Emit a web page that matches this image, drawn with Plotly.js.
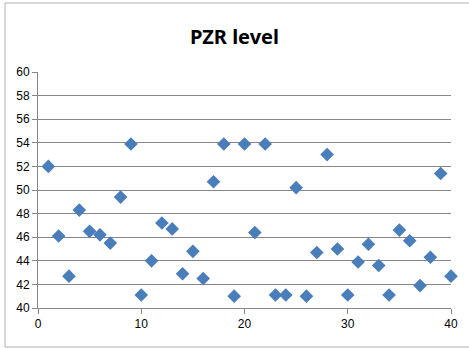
<!DOCTYPE html>
<html>
<head>
<meta charset="utf-8">
<script src="https://cdn.plot.ly/plotly-3.0.1.min.js"></script>
<style>html,body{margin:0;padding:0;background:#fff;}#chart{width:469px;height:349px;}</style>
</head>
<body>
<div id="chart"></div>
<script>
const xValues = [1,2,3,4,5,6,7,8,9,10,11,12,13,14,15,16,17,18,19,20,21,22,23,24,25,26,27,28,29,30,31,32,33,34,35,36,37,38,39,40];
const pzrLevel = [52.0,46.1,42.7,48.3,46.5,46.2,45.5,49.4,53.9,41.1,44.0,47.2,46.7,42.9,44.8,42.5,50.7,53.9,41.0,53.9,46.4,53.9,41.1,41.1,50.2,41.0,44.7,53.0,45.0,41.1,43.9,45.4,43.6,41.1,46.6,45.7,41.9,44.3,51.4,42.7];
const titleText = "PZR level";

const trace = {
  x: xValues, y: pzrLevel, type: 'scatter', mode: 'markers', cliponaxis: false,
  marker: {symbol: 'diamond', size: 10.5, color: '#4a7ebb', line: {width: 0}},
  hoverinfo: 'none'
};
const layout = {
  width: 469, height: 349,
  margin: {l: 38, r: 18, t: 72, b: 41},
  paper_bgcolor: '#fff', plot_bgcolor: '#fff',
  showlegend: false,
  title: {text: titleText, font: {family: 'Noto Sans', size: 20, color: '#000', weight: 'bold'},
          x: 0.5, xanchor: 'center', y: 1 - 37/349, yanchor: 'middle', yref: 'container'},
  xaxis: {range: [0, 40], dtick: 10, tick0: 0, showgrid: false, zeroline: false,
          showline: true, linecolor: '#868686', linewidth: 1,
          ticks: 'outside', ticklen: 5, tickcolor: '#868686',
          tickfont: {family: 'Liberation Sans', size: 12, color: '#000'}},
  yaxis: {range: [40, 60], dtick: 2, tick0: 40, showgrid: true, gridcolor: '#868686', gridwidth: 1,
          zeroline: false, showline: true, linecolor: '#868686', linewidth: 1,
          ticks: 'outside', ticklen: 5, tickcolor: '#868686',
          tickfont: {family: 'Liberation Sans', size: 12, color: '#000'}},
  shapes: [{type: 'rect', xref: 'paper', yref: 'paper',
            x0: (5 - 38) / 413, x1: (472 - 38) / 413,
            y0: (308 - 347) / 236, y1: (308 - 3) / 236,
            line: {color: '#b0b0b0', width: 1}, fillcolor: 'rgba(0,0,0,0)', layer: 'below'}]
};
Plotly.newPlot('chart', [trace], layout, {staticPlot: true, displayModeBar: false});
</script>
</body>
</html>
